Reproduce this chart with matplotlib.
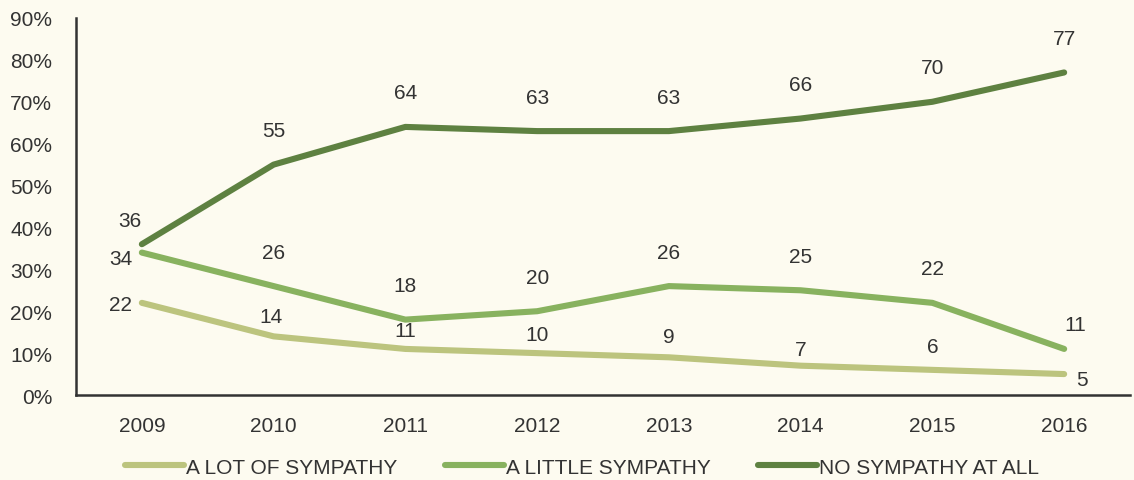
import matplotlib.pyplot as plt
import numpy as np

years = ["2009", "2010", "2011", "2012", "2013", "2014", "2015", "2016"]
a_lot = [22, 14, 11, 10, 9, 7, 6, 5]
a_little = [34, 26, 18, 20, 26, 25, 22, 11]
no_sympathy = [36, 55, 64, 63, 63, 66, 70, 77]

series_names = ["A LOT OF SYMPATHY", "A LITTLE SYMPATHY", "NO SYMPATHY AT ALL"]
colors = ["#BCC47E", "#88B25F", "#5E8141"]

# label offsets in pixels (dx, dy), default is straight above the point
offsets = {
    0: {0: (-21, -2), 1: (-3, 20), 2: (0, 18), 3: (0, 19), 4: (0, 21), 5: (0, 16), 6: (0, 23), 7: (18, -5)},
    1: {0: (-21, -6), 7: (11, 24)},
    2: {0: (-12, 24)},
}
default_dy = {0: 20, 1: 34, 2: 34}

bg = "#FDFBF0"
plt.rcParams['font.family'] = ['Liberation Sans', 'DejaVu Sans']

fig = plt.figure(figsize=(11.34, 4.81), dpi=100, facecolor=bg)
ax = fig.add_axes([0.067, 0.1767, 0.9295, 0.7838])
ax.set_facecolor(bg)

x = np.arange(len(years))
px = 72 / 100
for i, vals in enumerate([a_lot, a_little, no_sympathy]):
    ax.plot(x, np.array(vals) / 100, color=colors[i], lw=4.4, solid_capstyle='round',
            solid_joinstyle='round', label=series_names[i])
    for j, v in enumerate(vals):
        dx, dy = offsets[i].get(j, (0, default_dy[i]))
        ax.annotate(str(v), (x[j], v / 100), xytext=(dx * px, dy * px), textcoords='offset points',
                    ha='center', va='center', fontsize=15, color='#333333')

ax.set_xlim(-0.5, 7.5)
ax.set_ylim(0, 0.9)
ax.set_xticks(x)
ax.set_xticklabels(years)
ax.set_yticks(np.arange(0, 0.91, 0.1))
ax.set_yticklabels([f"{int(round(t * 100))}%" for t in np.arange(0, 0.91, 0.1)])
ax.tick_params(axis='both', length=0, labelsize=15, labelcolor='#333333')
ax.tick_params(axis='x', pad=15)
ax.tick_params(axis='y', pad=17)
for s in ['top', 'right']:
    ax.spines[s].set_visible(False)
for s in ['left', 'bottom']:
    ax.spines[s].set_color('#333333')
    ax.spines[s].set_linewidth(1.8)

fig.legend(loc='center', bbox_to_anchor=(582 / 1134, 1 - 468 / 481), ncol=3, frameon=False,
           fontsize=15, handlelength=2.84, handletextpad=0.1, columnspacing=2.26,
           labelcolor='#333333')

fig.savefig("out.png", dpi=100, facecolor=bg)
